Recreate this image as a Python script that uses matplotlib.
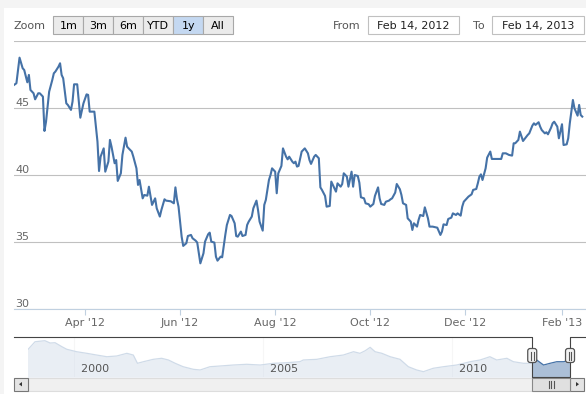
import numpy as np
import pandas as pd
import matplotlib
matplotlib.use('Agg')
import matplotlib.pyplot as plt
from matplotlib.patches import Rectangle, Polygon, FancyBboxPatch
from matplotlib.transforms import blended_transform_factory

W, H = 586, 394

# daily closes (1y range)
dates = [
    '2012-02-14', '2012-02-17', '2012-02-19', '2012-02-21', '2012-02-22', '2012-02-24', '2012-02-25', '2012-02-26',
    '2012-02-28', '2012-02-29', '2012-03-02', '2012-03-03', '2012-03-05', '2012-03-06', '2012-03-07', '2012-03-09',
    '2012-03-11', '2012-03-12', '2012-03-13', '2012-03-15', '2012-03-16', '2012-03-17', '2012-03-18', '2012-03-20',
    '2012-03-21', '2012-03-23', '2012-03-24', '2012-03-25', '2012-03-27', '2012-03-28', '2012-03-29', '2012-03-31',
    '2012-04-02', '2012-04-03', '2012-04-04', '2012-04-06', '2012-04-07', '2012-04-09', '2012-04-10', '2012-04-11',
    '2012-04-13', '2012-04-14', '2012-04-16', '2012-04-17', '2012-04-18', '2012-04-20', '2012-04-21', '2012-04-22',
    '2012-04-24', '2012-04-25', '2012-04-27', '2012-04-28', '2012-04-29', '2012-05-01', '2012-05-02', '2012-05-04',
    '2012-05-05', '2012-05-06', '2012-05-08', '2012-05-09', '2012-05-11', '2012-05-12', '2012-05-14', '2012-05-16',
    '2012-05-17', '2012-05-19', '2012-05-20', '2012-05-22', '2012-05-23', '2012-05-25', '2012-05-26', '2012-05-28',
    '2012-05-29', '2012-05-30', '2012-05-31', '2012-06-02', '2012-06-03', '2012-06-05', '2012-06-06', '2012-06-08',
    '2012-06-09', '2012-06-11', '2012-06-12', '2012-06-13', '2012-06-14', '2012-06-16', '2012-06-17', '2012-06-19',
    '2012-06-20', '2012-06-21', '2012-06-23', '2012-06-24', '2012-06-25', '2012-06-27', '2012-06-28', '2012-06-30',
    '2012-07-01', '2012-07-03', '2012-07-04', '2012-07-06', '2012-07-07', '2012-07-08', '2012-07-10', '2012-07-11',
    '2012-07-13', '2012-07-14', '2012-07-15', '2012-07-17', '2012-07-18', '2012-07-20', '2012-07-21', '2012-07-22',
    '2012-07-24', '2012-07-25', '2012-07-26', '2012-07-28', '2012-07-29', '2012-07-30', '2012-08-01', '2012-08-02',
    '2012-08-03', '2012-08-05', '2012-08-06', '2012-08-08', '2012-08-09', '2012-08-10', '2012-08-12', '2012-08-13',
    '2012-08-14', '2012-08-15', '2012-08-16', '2012-08-18', '2012-08-19', '2012-08-20', '2012-08-22', '2012-08-23',
    '2012-08-24', '2012-08-26', '2012-08-27', '2012-08-29', '2012-08-30', '2012-08-31', '2012-09-02', '2012-09-03',
    '2012-09-05', '2012-09-06', '2012-09-07', '2012-09-09', '2012-09-10', '2012-09-12', '2012-09-13', '2012-09-14',
    '2012-09-16', '2012-09-17', '2012-09-19', '2012-09-20', '2012-09-21', '2012-09-23', '2012-09-24', '2012-09-25',
    '2012-09-27', '2012-09-28', '2012-09-30', '2012-10-01', '2012-10-03', '2012-10-04', '2012-10-06', '2012-10-07',
    '2012-10-08', '2012-10-10', '2012-10-11', '2012-10-13', '2012-10-14', '2012-10-15', '2012-10-17', '2012-10-18',
    '2012-10-20', '2012-10-21', '2012-10-22', '2012-10-24', '2012-10-25', '2012-10-27', '2012-10-28', '2012-10-29',
    '2012-10-31', '2012-11-01', '2012-11-02', '2012-11-04', '2012-11-05', '2012-11-07', '2012-11-08', '2012-11-10',
    '2012-11-13', '2012-11-15', '2012-11-16', '2012-11-17', '2012-11-19', '2012-11-20', '2012-11-22', '2012-11-23',
    '2012-11-25', '2012-11-26', '2012-11-28', '2012-11-29', '2012-11-30', '2012-12-02', '2012-12-03', '2012-12-05',
    '2012-12-06', '2012-12-08', '2012-12-09', '2012-12-10', '2012-12-11', '2012-12-12', '2012-12-14', '2012-12-15',
    '2012-12-17', '2012-12-18', '2012-12-20', '2012-12-22', '2012-12-24', '2012-12-25', '2012-12-27', '2012-12-29',
    '2012-12-31', '2013-01-01', '2013-01-02', '2013-01-04', '2013-01-05', '2013-01-07', '2013-01-08', '2013-01-10',
    '2013-01-11', '2013-01-13', '2013-01-14', '2013-01-15', '2013-01-17', '2013-01-18', '2013-01-19', '2013-01-21',
    '2013-01-22', '2013-01-23', '2013-01-25', '2013-01-26', '2013-01-27', '2013-01-29', '2013-01-30', '2013-02-01',
    '2013-02-02', '2013-02-04', '2013-02-05', '2013-02-06', '2013-02-08', '2013-02-09', '2013-02-11', '2013-02-12',
    '2013-02-13', '2013-02-14',
]
prices = [
    46.62, 46.87, 48.78, 47.99, 47.86, 46.94, 47.49, 46.37, 46.12, 45.67, 46.12, 46.12, 45.87, 43.31, 44.00, 46.24,
    47.11, 47.61, 47.74, 48.11, 48.36, 47.49, 47.24, 45.37, 45.25, 44.88, 45.50, 46.79, 46.79, 45.50, 44.30, 45.37,
    46.04, 46.00, 44.75, 44.75, 44.75, 42.51, 40.32, 41.39, 42.01, 40.27, 41.02, 42.64, 42.14, 40.90, 41.14, 39.58,
    40.15, 41.52, 42.81, 42.14, 42.01, 41.77, 41.39, 40.52, 39.28, 39.65, 38.28, 38.53, 38.48, 39.15, 37.79, 38.28,
    37.54, 36.92, 37.41, 38.21, 38.11, 38.08, 38.06, 37.91, 39.10, 38.21, 37.66, 35.42, 34.73, 34.93, 35.47, 35.55,
    35.30, 35.12, 34.98, 34.18, 33.43, 34.18, 35.05, 35.60, 35.72, 35.05, 34.98, 33.93, 33.63, 33.93, 33.88, 35.55,
    36.29, 37.04, 36.96, 36.42, 35.47, 35.42, 35.80, 35.47, 35.55, 36.29, 36.54, 36.92, 37.54, 38.11, 37.41, 36.54,
    35.87, 37.79, 38.16, 39.65, 40.02, 40.52, 40.27, 38.66, 40.15, 40.70, 42.01, 41.39, 41.19, 41.39, 41.02, 40.90,
    41.02, 40.65, 40.70, 41.77, 41.89, 42.01, 41.64, 41.14, 40.85, 41.39, 41.52, 41.27, 39.10, 38.91, 38.46, 37.66,
    37.71, 39.53, 39.28, 38.78, 39.40, 39.15, 39.35, 40.15, 39.90, 39.15, 40.27, 39.15, 40.02, 39.95, 39.45, 38.36,
    38.28, 37.91, 37.84, 37.66, 37.86, 38.46, 39.10, 38.28, 37.86, 37.79, 38.03, 38.11, 38.21, 38.28, 38.71, 39.35,
    38.96, 38.53, 37.91, 37.79, 36.79, 36.54, 35.92, 36.42, 36.17, 36.67, 37.04, 36.96, 37.61, 36.79, 36.17, 36.17,
    36.09, 35.55, 35.80, 36.34, 36.29, 36.74, 36.84, 37.16, 37.04, 37.16, 36.99, 37.66, 38.03, 38.28, 38.41, 38.58,
    38.91, 38.98, 39.40, 39.90, 40.07, 39.65, 40.52, 41.32, 41.77, 41.22, 41.22, 41.22, 41.22, 41.64, 41.64, 41.52,
    41.47, 42.39, 42.39, 42.64, 43.26, 42.56, 42.71, 43.01, 43.13, 43.71, 43.88, 43.76, 43.96, 43.63, 43.38, 43.13,
    43.21, 43.06, 43.56, 43.88, 44.00, 43.63, 42.76, 43.81, 42.26, 42.31, 42.76, 43.88, 45.62, 45.00, 44.45, 45.25,
    44.50, 44.38,
]

# full history shown in the navigator (fractional years)
nav_years = [
    1998.76, 1998.96, 1999.22, 1999.36, 1999.49, 1999.67, 1999.80, 2000.06, 2000.33, 2000.59, 2000.86, 2001.12,
    2001.39, 2001.56, 2001.67, 2001.83, 2002.09, 2002.31, 2002.49, 2002.67, 2002.88, 2003.15, 2003.33, 2003.59,
    2003.86, 2004.21, 2004.56, 2004.92, 2005.27, 2005.62, 2005.97, 2006.06, 2006.42, 2006.77, 2007.12, 2007.39,
    2007.56, 2007.70, 2007.83, 2007.96, 2008.14, 2008.36, 2008.62, 2008.84, 2009.06, 2009.24, 2009.50, 2009.77,
    2010.12, 2010.48, 2010.74, 2011.00, 2011.18, 2011.45, 2011.62, 2011.89, 2012.13, 2012.24, 2012.42, 2012.59,
    2012.77, 2012.95, 2013.12,
]
nav_prices = [
    68.6, 87.1, 89.4, 84.2, 84.9, 76.0, 70.2, 64.8, 61.2, 57.4, 53.6, 55.2,
    61.2, 57.4, 38.9, 42.5, 47.8, 50.1, 46.3, 38.9, 31.3, 25.5, 24.0, 31.3,
    32.9, 35.1, 36.7, 35.1, 38.9, 40.2, 42.5, 46.3, 47.8, 53.6, 57.4, 64.8,
    61.2, 67.0, 74.6, 64.8, 61.2, 53.6, 47.8, 31.3, 24.0, 20.2, 27.8, 31.3,
    35.1, 42.5, 46.3, 53.6, 46.3, 50.1, 42.5, 38.9, 38.9, 46.3, 35.1, 38.9,
    42.5, 42.5, 46.3,
]

y_ticks = [30, 35, 40, 45, 50]
y_labels = ['30', '35', '40', '45', '']
x_ticks = ['2012-04-01', '2012-06-01', '2012-08-01', '2012-10-01', '2012-12-01', '2013-02-01']
x_labels = ["Apr '12", "Jun '12", "Aug '12", "Oct '12", "Dec '12", "Feb '13"]
nav_ticks = [2000, 2005, 2010]
buttons = ['1m', '3m', '6m', 'YTD', '1y', 'All']
selected = '1y'
range_from = 'Feb 14, 2012'
range_to = 'Feb 14, 2013'

LINE = '#4572A7'
GREY_TXT = '#666666'


def frac_year(ts):
    return ts.year + (ts.dayofyear - 1) / (366 if ts.is_leap_year else 365)


def rect(x0, y0, x1, y1):
    # pixel box, origin top-left -> figure fraction
    return [x0 / W, 1 - y1 / H, (x1 - x0) / W, (y1 - y0) / H]


def pixel_axes():
    a = fig.add_axes([0, 0, 1, 1], facecolor='none')
    a.set_xlim(0, W)
    a.set_ylim(H, 0)
    a.axis('off')
    return a


fig = plt.figure(figsize=(W / 100, H / 100), dpi=100, facecolor='#F4F4F4')

# background + range selector, in pixel coordinates
ui = pixel_axes()
ui.add_patch(Rectangle((4, 8), W - 4, H - 8, fc='white', ec='none'))

ui.text(14, 26, 'Zoom', ha='left', va='center', fontsize=8, color='#555555')
for i, b in enumerate(buttons):
    bx = 53.3 + 30 * i
    fc = '#C4D8F1' if b == selected else '#EBEBEB'
    ui.add_patch(Rectangle((bx, 16.3), 30, 18, fc=fc, ec='#A8A8A8', lw=0.8))
    ui.text(bx + 15, 25.8, b, ha='center', va='center', fontsize=8, color='black')

ui.text(360, 26, 'From', ha='right', va='center', fontsize=8, color='#555555')
ui.add_patch(Rectangle((368, 16.3), 91, 18, fc='white', ec='#C0C0C0', lw=0.8))
ui.text(413.5, 25.8, range_from, ha='center', va='center', fontsize=8, color='#222222')
ui.text(485, 26, 'To', ha='right', va='center', fontsize=8, color='#555555')
ui.add_patch(Rectangle((492.3, 16.3), 91.7, 18, fc='white', ec='#C0C0C0', lw=0.8))
ui.text(538, 25.8, range_to, ha='center', va='center', fontsize=8, color='#222222')

# main price chart
t = pd.to_datetime(dates)
ax = fig.add_axes(rect(14, 41.3, 586, 309.3), facecolor='none')
ax.plot(t, prices, color=LINE, lw=1.5, solid_joinstyle='round', zorder=3)
ax.set_xlim(t[0] + pd.Timedelta(days=1.45), t[0] + pd.Timedelta(days=368.4))
ax.set_ylim(30, 50)
ax.set_axisbelow(True)
ax.set_yticks(y_ticks)
ax.grid(axis='y', color='#C0C0C0', lw=0.8)
ax.tick_params(axis='y', length=0, labelleft=False)
ylab_tr = blended_transform_factory(ax.transAxes, ax.transData)
for v, lab in zip(y_ticks, y_labels):
    ax.text(0.002, v, lab, transform=ylab_tr, ha='left', va='bottom', fontsize=8, color=GREY_TXT)

ax.set_xticks(pd.to_datetime(x_ticks))
ax.set_xticklabels(x_labels, fontsize=8, color=GREY_TXT)
ax.tick_params(axis='x', length=4, width=0.8, color='#C0D0E0', pad=2)
for s in ['top', 'left', 'right']:
    ax.spines[s].set_visible(False)
ax.spines['bottom'].set_color('#C0D0E0')

# navigator
nav = fig.add_axes(rect(27.5, 337.3, 570, 376.7), facecolor='none')
nav.set_xlim(nav_years[0], nav_years[-1])
nav.set_ylim(9, 97)
nav.axis('off')
for yr in nav_ticks:
    nav.axvline(yr, color='#DDDDDD', lw=0.8, zorder=0)
nav.fill_between(nav_years, nav_prices, 9, color=LINE, alpha=0.45, lw=0, zorder=1)
nav.plot(nav_years, nav_prices, color=LINE, lw=0.9, zorder=2)

sel0 = frac_year(t[0])
sel1 = frac_year(t[-1])
nav.axvspan(nav_years[0], sel0, color='white', alpha=0.75, lw=0, zorder=3)
if sel1 < nav_years[-1]:
    nav.axvspan(sel1, nav_years[-1], color='white', alpha=0.75, lw=0, zorder=3)
lab_tr = blended_transform_factory(nav.transData, nav.transAxes)
for yr in nav_ticks:
    nav.text(yr, 0.2, '  ' + str(yr), transform=lab_tr, ha='left', va='center',
             fontsize=8, color='#555555', zorder=4)

x0 = nav.transData.transform((sel0, 0))[0]
x1 = nav.transData.transform((sel1, 0))[0]

# widgets drawn above the navigator mask
top = pixel_axes()
top.plot([13.5, x0, x0, x1, x1, 584.5], [337.3, 337.3, 377, 377, 337.3, 337.3],
         color='#444444', lw=0.8, zorder=5)

# scrollbar
top.add_patch(Rectangle((27.5, 377.5), 542.5, 13.5, fc='#F0F0F0', ec='#DDDDDD', lw=0.8))
for bx, pts in [(13.5, [(19, 384.2), (22, 382), (22, 386.4)]),
                (570, [(579, 384.2), (576, 382), (576, 386.4)])]:
    top.add_patch(Rectangle((bx, 377.5), 14, 13.5, fc='#E4E4E4', ec='#777777', lw=0.8))
    top.add_patch(Polygon(pts, closed=True, fc='#333333', ec='none'))
top.add_patch(Rectangle((x0, 377.5), x1 - x0, 13.5, fc='#E0E0E0', ec='#888888', lw=0.8, zorder=5))
xc = (x0 + x1) / 2
for dx in (-2.5, 0, 2.5):
    top.plot([xc + dx, xc + dx], [381, 388], color='#555555', lw=0.8, zorder=6)

# navigator handles
for hx in (x0, x1):
    top.add_patch(FancyBboxPatch((hx - 4.5, 348.5), 9, 14, boxstyle='round,pad=0,rounding_size=2.5',
                                 fc='#F2F2F2', ec='#555555', lw=0.9, zorder=7))
    for dx in (-1.4, 1.4):
        top.plot([hx + dx, hx + dx], [351.5, 359.5], color='#555555', lw=0.8, zorder=8)

fig.savefig('out.png', dpi=100, facecolor=fig.get_facecolor())
